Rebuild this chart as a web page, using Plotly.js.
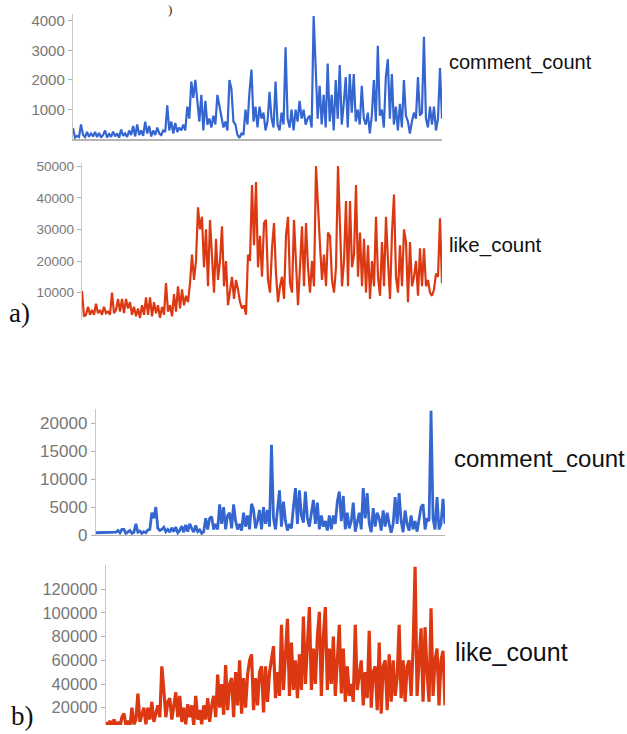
<!DOCTYPE html>
<html>
<head>
<meta charset="utf-8">
<script src="https://cdn.plot.ly/plotly-3.0.1.min.js"></script>
<style>html,body{margin:0;padding:0;background:#fff;}#chart{width:627px;height:734px;}</style>
</head>
<body>
<div id="chart"></div>
<script>
// ---- data ----
// panel a) comment_count
const aComment = [380,60,120,80,500,150,80,250,90,200,100,250,80,220,60,150,300,70,180,90,
260,100,200,60,330,120,200,80,300,150,450,100,500,150,300,120,600,200,450,100,
300,150,400,200,150,300,250,1150,300,600,200,550,250,400,300,500,300,1100,700,1950,
1400,2000,1300,600,1500,300,1300,500,700,400,800,500,1500,1100,700,400,600,300,2000,1700,
600,500,150,50,200,150,1000,500,1600,2350,600,1100,400,1100,700,900,300,600,1600,700,
400,1950,500,300,900,500,3100,700,400,1000,300,1000,600,1300,700,1000,500,700,800,400,
4150,2300,700,1800,500,1500,400,2550,600,1500,300,2000,700,2500,500,1200,2100,400,2200,900,
2200,600,1000,500,1800,700,500,900,200,800,2000,600,3150,800,1000,400,2100,2700,700,2200,
500,1100,300,1200,400,2000,800,600,200,600,900,700,2100,800,900,3450,700,400,1100,500,
1100,300,700,2400,700];
// panel a) like_count (thousands)
const aLikeK = [10.5,2.5,3,5.5,3,4.5,3,6.5,3.5,4.5,3,5.5,3.5,4,3,10,3.5,4.5,8,4,
8,3.5,8,5,7,3,5.5,2.5,5,2,6,3,8.5,3,8.5,2.5,7,3.5,6,2,
5.5,3,13,4,6,2.5,9.5,4,12,5,11,6,9,7,13,22,14,20,37,30,
34,18,30,12,33,20,10,27,14,20,31,12,20,6,10,15,8,14,11,7,
5,6,3,22,20,44,25,45,18,28,15,32,33,14,10,24,32,16,7,12,
15,8,28,34,13,10,33,20,6,18,31,12,32,18,10,20,12,50,35,25,
14,22,12,29,28,14,10,18,50,30,12,20,39,12,39,18,22,44,15,29,
12,27,10,25,8,20,12,34,15,9,26,12,34,20,8,29,41,15,10,25,
12,30,26,7,26,12,15,20,9,24,12,24,12,14,10,9,11,16,15,33.5,13];
// panel b) comment_count (thousands)
const bCommentK = [0.4,0.4,0.4,0.4,0.4,0.4,0.4,0.4,0.4,0.4,0.5,0.8,0.4,1.0,1.0,0.3,0.5,0.8,0.3,0.5,
2.0,0.5,0.7,0.3,0.6,0.4,0.9,1.0,4.0,3.0,5.0,1.2,0.8,1.0,1.4,0.6,1.0,0.5,1.3,0.6,
1.4,0.4,0.8,1.6,0.5,1.8,0.6,2.0,1.2,0.5,1.7,0.6,0.9,0.3,0.6,3.0,1.0,3.0,3.3,1.0,
2.0,1.0,5.5,2.0,5.0,1.0,3.5,4.0,1.2,5.5,2.5,1.0,2.0,0.8,4.0,1.5,3.5,1.0,5.6,4.5,
1.2,2.5,4.5,1.0,5.0,2.0,4.5,1.5,16.2,3.0,1.0,4.5,8.0,1.5,6.0,2.5,0.8,2.0,1.2,5.0,
8.4,2.0,8.0,3.5,2.2,7.8,3.0,1.5,4.0,6.3,2.0,5.8,1.0,3.5,1.5,2.5,0.8,3.5,1.0,3.5,
2.0,6.0,7.8,2.5,7.0,1.0,4.0,1.2,2.5,5.8,0.6,2.5,4.0,1.0,8.4,3.0,7.5,2.0,0.5,4.8,
1.5,4.0,3.0,0.8,4.4,1.5,4.0,2.0,0.4,2.0,6.8,2.0,7.5,2.5,0.5,4.4,2.0,0.8,3.5,1.0,
2.5,0.6,2.5,5.0,5.5,1.0,3.0,2.5,22.3,3.0,1.0,6.8,1.0,2.0,6.5,2.0];
// panel b) like_count (thousands)
const bLikeK = [8,4,9,4,10,5,8,4,12,15,5,9,4,20,6,10,32,8,14,20,
6,20,10,25,8,15,22,12,55,35,12,25,28,10,22,33,12,30,8,20,
6,23,12,22,5,30,10,18,6,22,10,28,8,22,30,12,48,20,40,14,
56,18,40,45,12,50,22,60,15,45,20,48,60,65,18,45,22,50,55,16,
55,25,50,60,72,28,50,30,90,35,60,95,30,75,35,60,28,65,35,97,
40,75,105,35,70,40,80,101,30,80,105,35,70,40,80,30,60,90,32,70,
25,55,30,40,25,90,35,50,60,22,50,28,85,20,50,55,18,75,15,55,
60,18,65,25,60,30,45,90,28,60,25,55,60,30,70,139,30,60,87,25,
88,50,25,104,30,60,70,22,60,68,22];
// tick values
const aCommentTicks = [1000,2000,3000,4000];
const aLikeTicks = [10000,20000,30000,40000,50000];
const bCommentTicks = [0,5000,10000,15000,20000];
const bLikeTicks = [20000,40000,60000,80000,100000,120000];
const seriesLabels = ["comment_count","like_count","comment_count","like_count"];
const panelLabels = ["a)","b)"];

// ---- build ----
const W = 627, H = 734;
const fx = p => p / W;
const fy = p => 1 - p / H;
const idx = arr => arr.map((_, i) => i);
const k = arr => arr.map(v => v * 1000);

const BLUE = '#3566CF', RED = '#DC3912';

const series = [
  {y: aComment, color: BLUE, w: 2.2},
  {y: k(aLikeK), color: RED, w: 2.2},
  {y: k(bCommentK), color: BLUE, w: 2.8},
  {y: k(bLikeK), color: RED, w: 3.2}
];
const traces = series.map((s, i) => ({
  x: idx(s.y), y: s.y, type: 'scatter', mode: 'lines',
  line: {color: s.color, width: s.w, shape: 'linear'},
  xaxis: i === 0 ? 'x' : 'x' + (i + 1),
  yaxis: i === 0 ? 'y' : 'y' + (i + 1),
  hoverinfo: 'skip'
}));

// pixel boxes [left, right, top, bottom]
const boxes = [
  [73, 442, 14, 139.4],
  [82, 442, 163, 319.5],
  [96, 445, 409, 535],
  [106, 445, 565, 725]
];
const yRanges = [[0, 4220], [1500, 51000], [0, 22600], [5400, 140500]];
const yTicks = [aCommentTicks, aLikeTicks, bCommentTicks, bLikeTicks];
const tickSizes = [15, 13.5, 17, 16.5];
const baseline = [true, false, true, false];

const layout = {
  width: W, height: H,
  margin: {l: 0, r: 0, t: 0, b: 0},
  paper_bgcolor: '#fff', plot_bgcolor: 'rgba(0,0,0,0)',
  showlegend: false, hovermode: false,
  font: {family: 'Liberation Sans, Arial, sans-serif'},
  annotations: [], shapes: []
};

boxes.forEach((b, i) => {
  const xn = i === 0 ? 'xaxis' : 'xaxis' + (i + 1);
  const yn = i === 0 ? 'yaxis' : 'yaxis' + (i + 1);
  const xa = i === 0 ? 'x' : 'x' + (i + 1);
  const ya = i === 0 ? 'y' : 'y' + (i + 1);
  layout[xn] = {
    domain: [fx(b[0]), fx(b[1])], anchor: ya,
    range: [0, series[i].y.length - 1],
    showgrid: false, zeroline: false, showticklabels: false, ticks: '',
    showline: baseline[i], linecolor: '#b5b5b5', linewidth: 1.2
  };
  layout[yn] = {
    domain: [fy(b[3]), fy(b[2])], anchor: xa,
    range: yRanges[i],
    tickmode: 'array', tickvals: yTicks[i], ticktext: yTicks[i].map(String),
    showgrid: false, zeroline: false,
    showline: true, linecolor: '#c8c8c8', linewidth: 1.2,
    ticks: 'outside', ticklen: 4, tickcolor: '#b0b0b0', tickwidth: 1,
    tickfont: {family: 'Liberation Sans, Arial, sans-serif', size: tickSizes[i], color: '#777'}
  };
});

// series labels to the right of each panel
const labelPos = [[447, 62, 20], [447, 245, 20.5], [452, 458, 24], [453, 652, 25]];
labelPos.forEach((p, i) => {
  layout.annotations.push({
    xref: 'paper', yref: 'paper', x: fx(p[0]), y: fy(p[1]),
    xanchor: 'left', yanchor: 'middle', showarrow: false,
    text: seriesLabels[i],
    font: {family: 'Liberation Sans, Arial, sans-serif', size: p[2], color: '#111'}
  });
});

// panel letters
const letterPos = [[7, 313], [9, 716]];
letterPos.forEach((p, i) => {
  layout.annotations.push({
    xref: 'paper', yref: 'paper', x: fx(p[0]), y: fy(p[1]),
    xanchor: 'left', yanchor: 'middle', showarrow: false,
    text: panelLabels[i],
    font: {family: 'Liberation Serif, Times New Roman, serif', size: 27, color: '#111'}
  });
});
// small bracket left over from a caption above
layout.annotations.push({
  xref: 'paper', yref: 'paper', x: fx(166), y: 1,
  xanchor: 'left', yanchor: 'top', showarrow: false,
  text: ')', font: {family: 'Liberation Serif, serif', size: 13, color: '#222'}
});

Plotly.newPlot('chart', traces, layout, {displayModeBar: false, staticPlot: true});
</script>
</body>
</html>
